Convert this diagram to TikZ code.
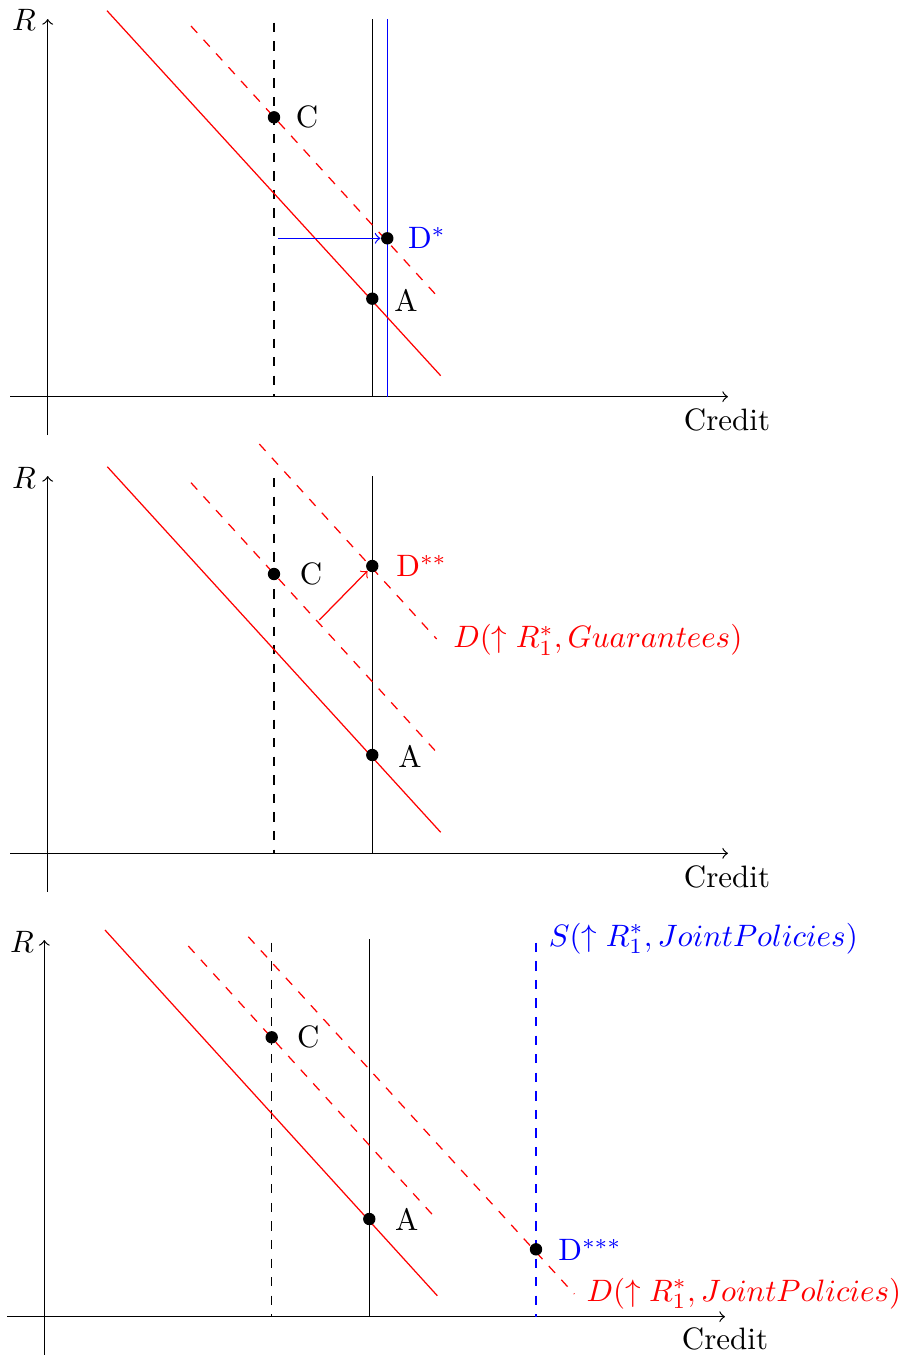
\documentclass[tikz,border=0pt]{standalone}
\begin{document}
\begin{tikzpicture}[x=0.323pt,y=-0.323pt,
  axis/.style={->, black},
  dot/.style={circle, fill=black, inner sep=0pt, minimum size=4pt},
  lbl/.style={inner sep=0pt},
  reddash/.style={red, dashed},
  vdash/.style={black, dashed}]
\useasboundingbox (0,0) rectangle (905,1355);

% ================= Panel 1 =================
\coordinate (p1yb) at (47.7,435);
\coordinate (p1yt) at (47.7,19);
\coordinate (p1xl) at (10,396.7);
\coordinate (p1xr) at (728,396.7);
\draw[axis] (p1yb) -- (p1yt);
\draw[axis] (p1xl) -- (p1xr);
\node[lbl] (p1R) at (24,20) {$R$};
\node[lbl] (p1credit) at (727,420) {Credit};

\coordinate (p1cdt) at (274,22.7);  \coordinate (p1cdb) at (274,396.7);
\coordinate (p1at) at (372.3,19.3); \coordinate (p1ab) at (372.3,396.7);
\coordinate (p1bt) at (387.3,19.3); \coordinate (p1bb) at (387.3,396.7);
\coordinate (p1rs1) at (107,10.7);  \coordinate (p1rs2) at (440.7,375.7);
\coordinate (p1rd1) at (191,26);    \coordinate (p1rd2) at (440.7,300);
\draw[vdash] (p1cdt) -- (p1cdb);
\draw (p1at) -- (p1ab);
\draw[blue] (p1bt) -- (p1bb);
\draw[red] (p1rs1) -- (p1rs2);
\draw[reddash] (p1rd1) -- (p1rd2);

\node[dot] (p1C) at (274,117.3) {};
\node[dot] (p1D) at (387.3,238.3) {};
\node[dot] (p1A) at (372.3,298.7) {};
\node[lbl] (p1Cl) at (307,117) {C};
\node[lbl, blue] (p1Dl) at (427,238) {D$^*$};
\node[lbl] (p1Al) at (406,300) {A};
\coordinate (p1arr) at (278.3,238.3);
\draw[->, blue] (p1arr) -- (p1D);

% ================= Panel 2 =================
\coordinate (p2yb) at (47.7,891.7);
\coordinate (p2yt) at (47.7,476);
\coordinate (p2xl) at (10,853.3);
\coordinate (p2xr) at (728,853.3);
\draw[axis] (p2yb) -- (p2yt);
\draw[axis] (p2xl) -- (p2xr);
\node[lbl] (p2R) at (24,478) {$R$};
\node[lbl] (p2credit) at (727,877) {Credit};

\coordinate (p2cdt) at (274,478);    \coordinate (p2cdb) at (274,853.3);
\coordinate (p2at) at (372.3,476);   \coordinate (p2ab) at (372.3,853.3);
\coordinate (p2rs1) at (107.3,466.7); \coordinate (p2rs2) at (440.7,832.3);
\coordinate (p2rd1) at (191,482.7);  \coordinate (p2rd2) at (440.7,756.7);
\coordinate (p2re1) at (259.3,444);  \coordinate (p2re2) at (436.7,639);
\draw[vdash] (p2cdt) -- (p2cdb);
\draw (p2at) -- (p2ab);
\draw[red] (p2rs1) -- (p2rs2);
\draw[reddash] (p2rd1) -- (p2rd2);
\draw[reddash] (p2re1) -- (p2re2);

\node[dot] (p2C) at (274,574) {};
\node[dot] (p2D) at (372.3,566) {};
\node[dot] (p2A) at (372.3,755) {};
\node[lbl] (p2Cl) at (311,574) {C};
\node[lbl, red] (p2Dl) at (421.7,566) {D$^{**}$};
\node[lbl] (p2Al) at (410,756.7) {A};
\node[lbl, red, anchor=west] (p2G) at (452.7,640) {$D(\uparrow R_1^*, Guarantees)$};
\coordinate (p2arr) at (319.3,620);
\draw[->, red] (p2arr) -- (p2D);

% ================= Panel 3 =================
\coordinate (p3yb) at (44.3,1355);
\coordinate (p3yt) at (44.3,940);
\coordinate (p3xl) at (7,1316.7);
\coordinate (p3xr) at (725,1316.7);
\draw[axis] (p3yb) -- (p3yt);
\draw[axis] (p3xl) -- (p3xr);
\node[lbl] (p3R) at (22,941.7) {$R$};
\node[lbl] (p3credit) at (725,1339) {Credit};

\coordinate (p3cdt) at (271.7,942.7); \coordinate (p3cdb) at (271.7,1316.7);
\coordinate (p3at) at (369.3,939.3);  \coordinate (p3ab) at (369.3,1316.7);
\coordinate (p3st) at (536,942.7);    \coordinate (p3sb) at (536,1316.7);
\coordinate (p3rs1) at (105,930);     \coordinate (p3rs2) at (437.3,1295.7);
\coordinate (p3rd1) at (188.3,946);   \coordinate (p3rd2) at (437.3,1220);
\coordinate (p3re1) at (248.3,936.7); \coordinate (p3re2) at (574.3,1294);
\draw[vdash] (p3cdt) -- (p3cdb);
\draw (p3at) -- (p3ab);
\draw[blue, dashed] (p3st) -- (p3sb);
\draw[red] (p3rs1) -- (p3rs2);
\draw[reddash] (p3rd1) -- (p3rd2);
\draw[reddash] (p3re1) -- (p3re2);

\node[dot] (p3C) at (271.7,1037.3) {};
\node[dot] (p3A) at (369.3,1219) {};
\node[dot] (p3D) at (536,1249.3) {};
\node[lbl] (p3Cl) at (308.3,1037) {C};
\node[lbl] (p3Al) at (406.7,1219) {A};
\node[lbl, blue] (p3Dl) at (590,1250) {D$^{***}$};
\node[lbl, blue, anchor=west] (p3S) at (548.3,938.3) {$S(\uparrow R_1^*, JointPolicies)$};
\node[lbl, red, anchor=west] (p3J) at (586,1293.3) {$D(\uparrow R_1^*, JointPolicies)$};
\end{tikzpicture}
\end{document}
